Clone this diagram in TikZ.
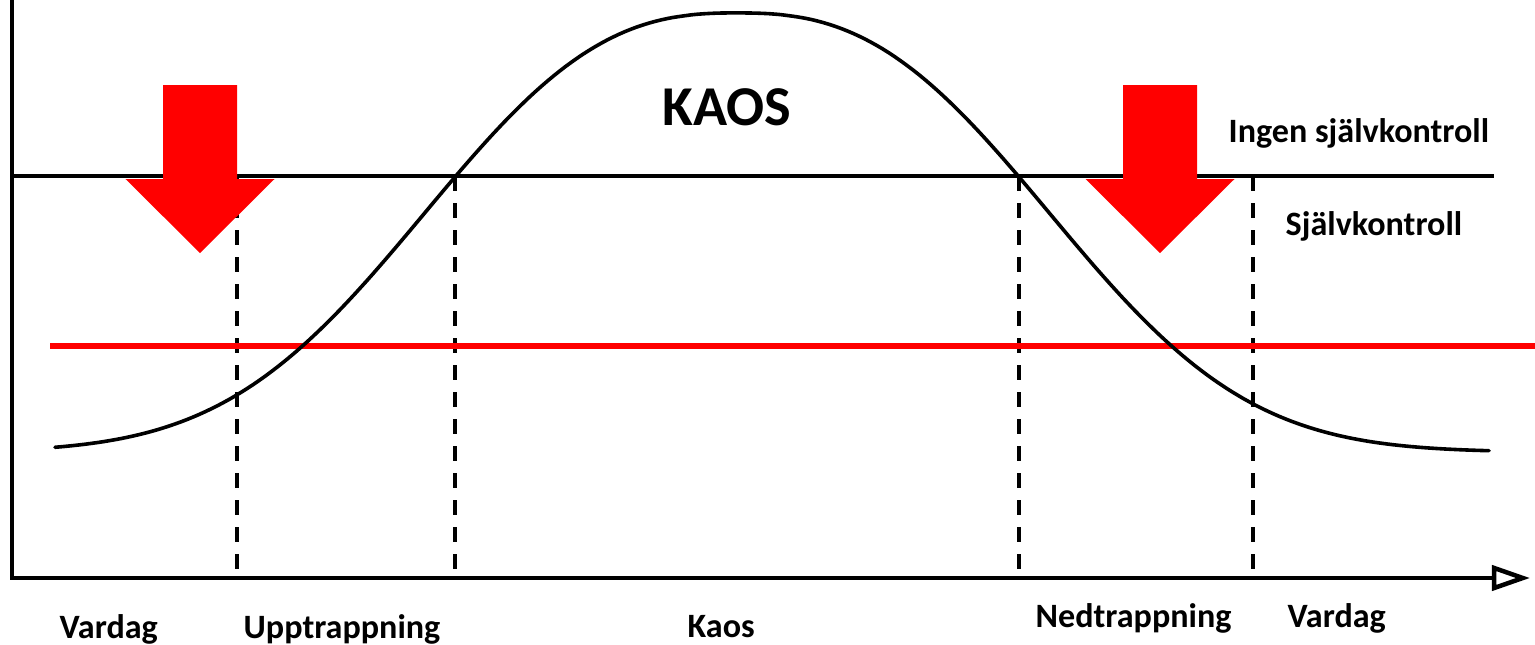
\documentclass[tikz,border=0pt]{standalone}
\usepackage{fontspec}
\setmainfont{Carlito}
\usetikzlibrary{arrows.meta}
\definecolor{alarmred}{RGB}{255,0,0}
\tikzset{
  axisline/.style={line width=0.045cm},
  curveline/.style={line width=0.036cm},
  phaseline/.style={line width=0.048cm,dash pattern=on 0.15cm off 0.12cm},
  limitline/.style={alarmred,line width=0.055cm},
  phaselabel/.style={font=\fontsize{9.7}{11}\selectfont\bfseries,anchor=base west,inner sep=0pt},
  downarrow/.style={fill=alarmred}
}

\begin{document}
\begin{tikzpicture}[x=0.01cm,y=-0.01cm]
    \useasboundingbox (0,0) rectangle (1535,645);
    \coordinate (ytop) at (12,0);
    \coordinate (O) at (12,578);
    \coordinate (xend) at (1530,578);
    \coordinate (limL) at (12,176);
    \coordinate (limR) at (1494,176);
    \coordinate (redL) at (50,346);
    \coordinate (redR) at (1535,346);

    \draw[axisline,-{Triangle[open,length=0.38cm,width=0.25cm]}] (ytop) -- (O) -- (xend);
    \draw[axisline] (limL) -- (limR);
    \foreach \px in {237,455,1019,1253}
      \draw[phaseline] (\px,176) -- (\px,578);
    \draw[limitline] (redL) -- (redR);
    \draw[curveline,line cap=round]
      plot[domain=55:1489,samples=240] (\x,{452-439*exp(-pow((abs(\x-737)+0.01)/379,2.57))});

    \foreach \cx in {200,1160}
      \fill[downarrow] ({\cx-37},85) -- ({\cx+37},85) -- ({\cx+37},179) -- ({\cx+74.5},179)
        -- (\cx,253) -- ({\cx-74.5},179) -- ({\cx-37},179) -- cycle;

    \node[phaselabel,font=\fontsize{16}{19}\selectfont\bfseries] (kaosbig) at (662,125) {KAOS};
    \node[phaselabel] (ingen) at (1228,142) {Ingen självkontroll};
    \node[phaselabel] (sjalv) at (1285,235) {Självkontroll};
    \node[phaselabel] (vardag1) at (59,638) {Vardag};
    \node[phaselabel] (upp) at (243,638) {Upptrappning};
    \node[phaselabel] (kaos) at (687,637) {Kaos};
    \node[phaselabel] (ned) at (1035,627) {Nedtrappning};
    \node[phaselabel] (vardag2) at (1287,627) {Vardag};
\end{tikzpicture}
\end{document}
